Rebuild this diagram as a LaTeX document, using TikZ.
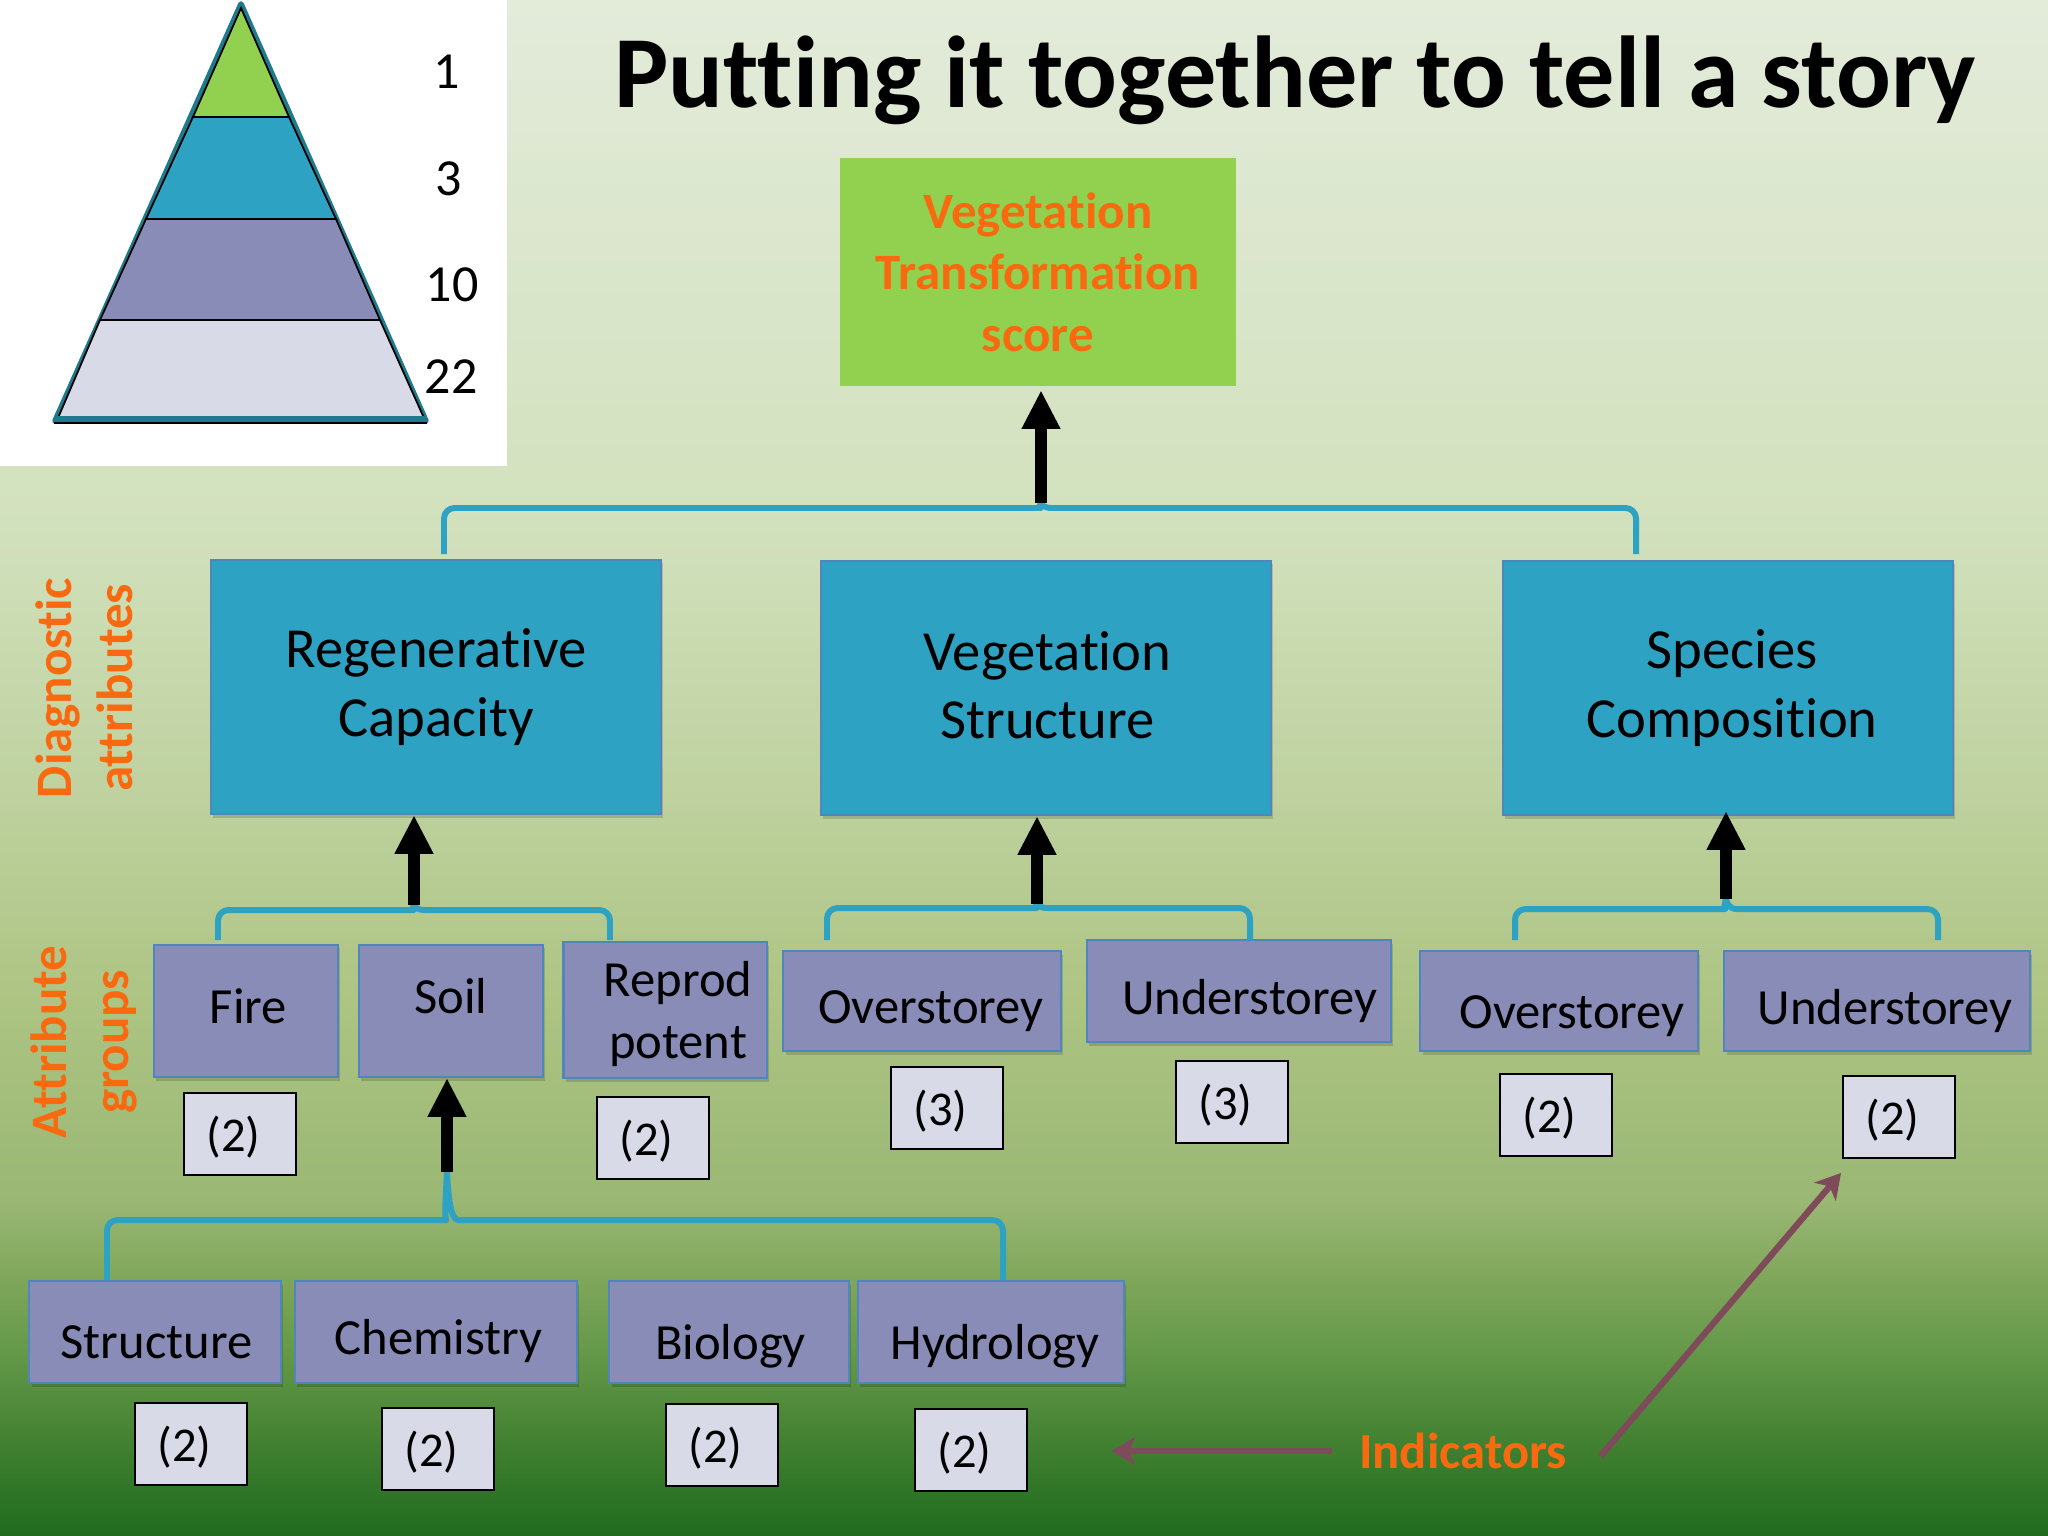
\documentclass[tikz,border=0pt]{standalone}
\usepackage{fontspec}
\setmainfont{Carlito}[Ligatures=NoCommon]
\usetikzlibrary{arrows.meta,calc,shadows}
\definecolor{teal1}{HTML}{2EA2C3}
\definecolor{edge1}{HTML}{4F86BE}
\definecolor{violet1}{HTML}{8A8CB8}
\definecolor{pale1}{HTML}{D8DAE8}
\definecolor{leaf1}{HTML}{92D050}
\definecolor{flame1}{HTML}{F96A10}
\definecolor{wine1}{HTML}{7F4B5A}
\definecolor{rim1}{HTML}{1F7A8C}
\definecolor{bgf}{HTML}{1F6B1E}
\definecolor{bge}{HTML}{3F7F2F}
\definecolor{bgd}{HTML}{66994A}
\definecolor{bgc}{HTML}{7EA65A}
\definecolor{bgb}{HTML}{9AB774}
\definecolor{bga}{HTML}{ADC483}
\definecolor{bg9}{HTML}{BED19E}
\definecolor{bg8}{HTML}{D2E1BD}
\definecolor{bg7}{HTML}{E3EBDA}
\pgfdeclareverticalshading{slide}{100bp}{
  color(0bp)=(bgf);
  color(25bp)=(bgf);
  color(27.8bp)=(bge);
  color(31.1bp)=(bgd);
  color(33.3bp)=(bgc);
  color(35.9bp)=(bgb);
  color(42.4bp)=(bga);
  color(49bp)=(bg9);
  color(58bp)=(bg8);
  color(75bp)=(bg7);
  color(100bp)=(bg7)}
\tikzset{
  softshadow/.style={drop shadow={shadow xshift=0.6pt,shadow yshift=-1pt,opacity=0.15,fill=black}},
  scorebox/.style={fill=leaf1,minimum width=3.96cm,minimum height=2.28cm,align=center,
    text=flame1,font=\fontsize{14.5}{17.5}\selectfont\bfseries},
  attrbox/.style={fill=teal1,draw=edge1,line width=0.6pt,softshadow,minimum width=4.5cm,minimum height=2.54cm,
    align=center,font=\fontsize{16.1}{19.4}\selectfont},
  groupbox/.style={fill=violet1,draw=edge1,line width=0.6pt,softshadow,align=center,
    font=\fontsize{14.4}{17.4}\selectfont},
  countbox/.style={fill=pale1,draw=black,line width=0.7pt,minimum width=1.12cm,minimum height=0.82cm,
    text height=11.8pt,text depth=2pt,execute at begin node={\hspace*{-0.13cm}},
    font=\fontsize{13.8}{16}\selectfont},
  sidetext/.style={rotate=90,align=center,text=flame1,font=\fontsize{14.5}{17.4}\selectfont\bfseries},
  tiernum/.style={font=\fontsize{14.8}{18}\selectfont},
  brace/.style={draw=teal1,line width=1.7pt,line join=round},
  blockarrow/.style={line width=3.5pt,-{Triangle[length=11pt,width=10.3pt]}},
  pointer/.style={draw=wine1,line width=1.8pt,-{Stealth[length=7pt,width=8pt,inset=2pt]}},
  tier/.style={draw=black,line width=0.5pt},
  % baseline of a one-line box, measured down from its centre
  tbase/.style={text height=8pt+#1,text depth=8pt-#1},
  tkern/.style={execute at begin node={\hspace*{#1}}}
}
% bar of a brace, with its small peak at the middle
\newcommand{\hubbrace}[4]{
  \draw[brace] (#1) [rounded corners=3pt] |- ($(#2)+(-11,#4)$) [sharp corners]
    .. controls ($(#2)+(-3,#4)$) and ($(#2)+(-1,#4*0.4)$) .. (#2)
    .. controls ($(#2)+(1,#4*0.4)$) and ($(#2)+(3,#4)$) .. ($(#2)+(11,#4)$)
    [rounded corners=3pt] -| (#3);
}
\begin{document}
\begin{tikzpicture}[x=0.01cm,y=-0.01cm]
  \shade[shading=slide] (0,0) rectangle (2048,1536);

  % pyramid
  \fill[white] (0,0) rectangle (507,466);
  \draw[rim1,line width=1.6pt,line join=round] (241,4) -- (55,421) -- (426,421) -- cycle;
  \draw[tier,fill=pale1] (100,320) -- (380,320) -- (424,418) -- (58,418) -- cycle;
  \draw[tier,fill=violet1] (146,219) -- (336,219) -- (380,320) -- (100,320) -- cycle;
  \draw[tier,fill=teal1] (193,117) -- (289,117) -- (336,219) -- (146,219) -- cycle;
  \draw[tier,fill=leaf1] (241,8) -- (289,117) -- (193,117) -- cycle;
  \draw[rim1,line width=1.6pt] (56,419) -- (425,419);
  \draw[tier] (54,423) -- (427,423);
  \node[tiernum] (tier1) at (447,72) {1};
  \node[tiernum] (tier3) at (449,179) {3};
  \node[tiernum] (tier10) at (452,285) {10};
  \node[tiernum] (tier22) at (451,377) {22};

  \node[font=\fontsize{29.05}{34}\selectfont\bfseries] (title) at (1295,80) {Putting it together to tell a story};

  \node[sidetext] (diagnostic) at (84,688) {Diagnostic\\attributes};
  \node[sidetext] (groups) at (84,1042) {Attribute\\groups};

  \node[scorebox] (score) at (1038,272) {Vegetation\\Transformation\\score};

  \node[attrbox] (regen) at (436,687) {Regenerative\\Capacity};
  \node[attrbox] (vegstr) at (1046,688) {\hspace*{0.03cm}Vegetation\\\hspace*{0.03cm}Structure\rule[-1.5pt]{0pt}{1pt}};
  \node[attrbox] (species) at (1728,688) {\hspace*{0.08cm}Species\\\hspace*{0.08cm}Composition};

  \node[groupbox,minimum width=1.84cm,minimum height=1.32cm,tbase=3.6pt,tkern=0.05cm] (fire) at (246,1011) {Fire};
  \node[groupbox,minimum width=1.84cm,minimum height=1.32cm,tbase=0.75pt] (soil) at (451,1011) {Soil};
  \node[groupbox,minimum width=2.03cm,minimum height=1.34cm] (reprod) at (665,1010) {\hspace*{0.26cm}Reprod\rule{0pt}{12.3pt}\\\hspace*{0.26cm}potent};
  \node[groupbox,minimum width=2.77cm,minimum height=1cm,tbase=6.3pt,tkern=0.18cm] (over1) at (922,1001) {Overstorey};
  \node[groupbox,minimum width=3.04cm,minimum height=1.02cm,tbase=6.6pt,tkern=0.21cm] (under1) at (1239,991) {Understorey};
  \node[groupbox,minimum width=2.77cm,minimum height=1cm,tbase=7.9pt,tkern=0.26cm] (over2) at (1559,1001) {Overstorey};
  \node[groupbox,minimum width=3.05cm,minimum height=1cm,tbase=6.6pt,tkern=0.16cm] (under2) at (1877,1001) {Understorey};

  \node[groupbox,minimum width=2.51cm,minimum height=1.02cm,tbase=7.5pt,tkern=0.03cm] (structure) at (155,1332) {Structure};
  \node[groupbox,minimum width=2.82cm,minimum height=1.02cm,tbase=6.5pt,tkern=0.05cm] (chemistry) at (436,1332) {Chemistry};
  \node[groupbox,minimum width=2.39cm,minimum height=1.02cm,tbase=7.7pt,tkern=0.03cm] (biology) at (729,1332) {Biology};
  \node[groupbox,minimum width=2.66cm,minimum height=1.02cm,tbase=7.9pt,tkern=0.08cm] (hydrology) at (991,1332) {Hydrology};

  \node[countbox] (nfire) at (240,1134) {(2)};
  \node[countbox] (nreprod) at (653,1138) {(2)};
  \node[countbox] (nover1) at (947,1108) {(3)};
  \node[countbox] (nunder1) at (1232,1102) {(3)};
  \node[countbox] (nover2) at (1556,1115) {(2)};
  \node[countbox] (nunder2) at (1899,1117) {(2)};
  \node[countbox] (nstructure) at (191,1444) {(2)};
  \node[countbox] (nchemistry) at (438,1449) {(2)};
  \node[countbox] (nbiology) at (722,1445) {(2)};
  \node[countbox] (nhydrology) at (971,1450) {(2)};

  \node[text=flame1,font=\fontsize{14.4}{17}\selectfont\bfseries] (indicators) at (1463,1451) {Indicators};

  \coordinate (hubA) at (1041,503);
  \coordinate (hubB) at (414,905);
  \coordinate (hubC) at (1037,904);
  \coordinate (hubD) at (1726,899);
  \coordinate (hubE) at (447,1172);
  \coordinate (backTip) at (1111,1451);
  \coordinate (fwdTip) at (1841,1173);

  \hubbrace{444,554}{hubA}{1636,554}{5}
  \hubbrace{218,940}{hubB}{610,940}{5}
  \hubbrace{827,940}{hubC}{1250,940}{4}
  \hubbrace{1515,940}{hubD}{1938,940}{10}
  \hubbrace{107,1280}{hubE}{1003,1280}{48}

  \draw[blockarrow,shorten >=1pt] (hubA) -- (hubA |- score.south);
  \draw[blockarrow] (hubB) -- (hubB |- regen.south);
  \draw[blockarrow] (hubC) -- (hubC |- vegstr.south);
  \draw[blockarrow,shorten >=-0.05cm] (hubD) -- (hubD |- species.south);
  \draw[blockarrow] (hubE) -- (hubE |- soil.south);

  \draw[pointer,shorten <=0.15cm] (indicators.west) -- (backTip);
  \draw[pointer,shorten <=0.33cm] (indicators.south east) -- (fwdTip);
\end{tikzpicture}
\end{document}
